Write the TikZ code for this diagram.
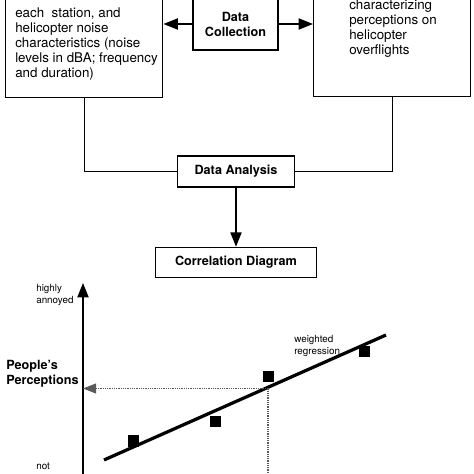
\documentclass[tikz,border=0pt]{standalone}
\usepackage{fontspec}
\setmainfont{TeX Gyre Heros}
\usetikzlibrary{positioning,arrows.meta}

\begin{document}
\begin{tikzpicture}[x=0.025cm,y=0.025cm]
\tikzstyle{box}=[draw, line width=1pt, inner sep=0pt]
\tikzstyle{txt}=[inner sep=0pt, align=left, font=\fontsize{9.5}{10.7}\selectfont]
\tikzstyle{hd}=[inner sep=0pt, align=center, font=\fontsize{9}{10.7}\selectfont\bfseries]
\tikzstyle{sml}=[inner sep=0pt, align=left, font=\fontsize{7}{8.5}\selectfont]
\tikzstyle{arr}=[line width=1pt, -{Triangle[length=0.36cm, width=0.28cm]}]
\tikzstyle{pt}=[fill, minimum size=0.275cm, inner sep=0pt]
\tikzstyle{est}=[black!65, line width=0.9pt, dash pattern=on 0.8pt off 0.8pt]

\useasboundingbox (0,0) rectangle (474,474);
\clip (0,0) rectangle (474,474);

% flow chart
\node[box, minimum width=3.925cm, minimum height=3.5cm, anchor=south west] (obs) at (5,376) {};
\node[txt, anchor=north west] (obstxt) at (15,467) {each\ \ station, and\\helicopter noise\\characteristics (noise\\levels in dBA; frequency\\and duration)};
\node[box, hd, minimum width=2.125cm, minimum height=1.3cm] (col) at (235.5,450) {Data\\Collection};
\node[box, minimum width=3.925cm, minimum height=3.5cm, anchor=south west] (srv) at (313,377) {};
\node[txt, anchor=north west] (srvtxt) at (349,475) {characterizing\\perceptions on\\helicopter\\overflights};
\node[box, hd, minimum width=2.925cm, minimum height=0.775cm] (ana) at (236,302.5) {Data Analysis};
\node[box, hd, minimum width=4.025cm, minimum height=0.75cm, below=1.475cm of ana] (cor) {Correlation Diagram};

\draw[arr] (col) -- (col -| obs.east);
\draw[arr] (col) -- (col -| srv.west);
\draw[line width=1pt] (obs) |- (ana);
\draw[line width=1pt] (ana) -| (srv);
\draw[arr] (ana) -- (cor);

% correlation plot
\coordinate (org) at (83,-6);
\coordinate (top) at (83,191);
\draw[arr] (org) -- (top);
\node[sml, anchor=north west] (hi) at (36,190) {highly\\annoyed};
\node[sml, anchor=north west] (lo) at (36,11) {not};
\node[hd, align=left, anchor=north west] (ppl) at (6,114) {People's\\Perceptions};

\coordinate (r0) at (104,14);
\coordinate (r1) at (386,139);
\draw[line width=2.3pt] (r0) -- (r1);
\node[sml, anchor=north west] (wr) at (294,139) {weighted\\regression};
\foreach \x/\y [count=\i] in {133/33, 215.5/52.5, 268.5/97.5, 364.5/122.5}
  \node[pt] (p\i) at (\x,\y) {};

\coordinate (est) at (268,85.5);
\draw[est, -{Triangle[length=0.33cm, width=0.25cm]}] (est) -- (est -| top);
\draw[est] (est) -- (est |- org);
\end{tikzpicture}
\end{document}
